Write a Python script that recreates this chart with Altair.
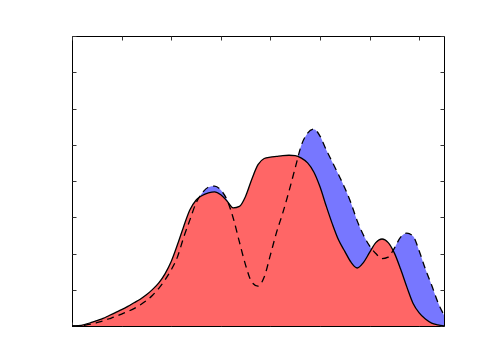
import altair as alt
import pandas as pd

x_vals = [i * 0.125 for i in range(61)]
solid = [0.00, 0.01, 0.04, 0.09, 0.15, 0.21, 0.29, 0.37, 0.45, 0.54,
         0.64, 0.74, 0.86, 1.01, 1.19, 1.44, 1.78, 2.24, 2.74, 3.20,
         3.47, 3.60, 3.67, 3.70, 3.62, 3.45, 3.26, 3.30, 3.58, 4.05,
         4.45, 4.62, 4.66, 4.68, 4.70, 4.71, 4.70, 4.63, 4.50, 4.25,
         3.84, 3.31, 2.81, 2.37, 2.06, 1.76, 1.60, 1.75, 2.03, 2.30,
         2.40, 2.30, 2.01, 1.57, 1.08, 0.63, 0.36, 0.19, 0.08, 0.03,
         0.00]
dashed = [0.00, 0.00, 0.02, 0.05, 0.09, 0.14, 0.20, 0.26, 0.33, 0.40,
          0.48, 0.58, 0.70, 0.85, 1.04, 1.27, 1.55, 1.90, 2.44, 2.92,
          3.39, 3.67, 3.83, 3.86, 3.75, 3.48, 2.98, 2.32, 1.68, 1.21,
          1.10, 1.35, 1.96, 2.59, 3.12, 3.72, 4.36, 4.99, 5.32, 5.43,
          5.24, 4.86, 4.52, 4.17, 3.81, 3.39, 2.90, 2.51, 2.21, 2.00,
          1.86, 1.90, 2.15, 2.45, 2.56, 2.48, 2.07, 1.57, 1.13, 0.66,
          0.30]
x_ticks = [0, 1, 2, 3, 4, 5, 6, 7]
y_ticks = [0, 1, 2, 3, 4, 5, 6, 7, 8]

df = pd.DataFrame({"x": x_vals, "y1": solid, "y2": dashed})

interp = "monotone"
xs = alt.Scale(domain=[0, 7.5], nice=False, zero=False)
ys = alt.Scale(domain=[0, 8], nice=False)

def ax(orient, values):
    return alt.Axis(orient=orient, values=values, labels=False, title=None, domain=False,
                    grid=False, tickSize=4, offset=-4, tickColor="#333333", tickWidth=1)

base = alt.Chart(df)

blue = base.mark_area(color="#7777FF", opacity=1, interpolate=interp).encode(
    x=alt.X("x:Q", scale=xs, axis=ax("bottom", x_ticks)),
    y=alt.Y("y2:Q", scale=ys, axis=ax("left", y_ticks)),
)
red = base.mark_area(color="#FF6666", opacity=1, interpolate=interp).encode(
    x=alt.X("x:Q", scale=xs, axis=None),
    y=alt.Y("y1:Q", scale=ys, axis=None),
)
line1 = base.mark_line(color="black", strokeWidth=1.3, interpolate=interp).encode(
    x=alt.X("x:Q", scale=xs, axis=ax("top", x_ticks)),
    y=alt.Y("y1:Q", scale=ys, axis=ax("right", y_ticks)),
)
line2 = base.mark_line(color="black", strokeWidth=1.3, strokeDash=[7, 5], interpolate=interp).encode(
    x=alt.X("x:Q", scale=xs, axis=None),
    y=alt.Y("y2:Q", scale=ys, axis=None),
)

chart = alt.layer(blue, red, line1, line2).resolve_axis(
    x="independent", y="independent"
).properties(
    width=372, height=290,
    autosize=alt.AutoSizeParams(type="none"),
    padding={"left": 64, "top": 28, "right": 29, "bottom": 29},
).configure_view(stroke="black", strokeWidth=1)

chart.save("out.html", embed_options={"renderer": "svg", "actions": False})
